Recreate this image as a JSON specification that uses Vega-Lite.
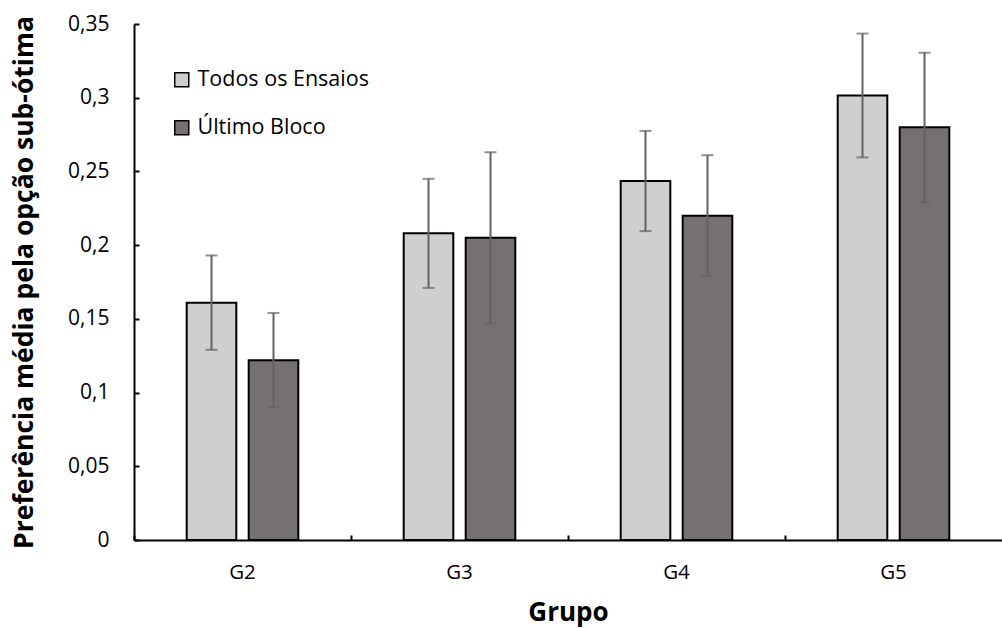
{
  "$schema": "https://vega.github.io/schema/vega-lite/v6.json",
  "width": 868,
  "height": 516,
  "autosize": {"type": "none"},
  "padding": {"left": 134, "top": 24, "right": 0, "bottom": 88},
  "background": "white",
  "data": {
    "values": [
      {"grupo": "G2", "serie": "Todos os Ensaios", "valor": 0.161, "lo": 0.129, "hi": 0.193},
      {"grupo": "G2", "serie": "Último Bloco", "valor": 0.122, "lo": 0.090, "hi": 0.154},
      {"grupo": "G3", "serie": "Todos os Ensaios", "valor": 0.208, "lo": 0.171, "hi": 0.245},
      {"grupo": "G3", "serie": "Último Bloco", "valor": 0.205, "lo": 0.147, "hi": 0.263},
      {"grupo": "G4", "serie": "Todos os Ensaios", "valor": 0.2435, "lo": 0.2095, "hi": 0.2775},
      {"grupo": "G4", "serie": "Último Bloco", "valor": 0.220, "lo": 0.179, "hi": 0.261},
      {"grupo": "G5", "serie": "Todos os Ensaios", "valor": 0.3015, "lo": 0.2595, "hi": 0.3435},
      {"grupo": "G5", "serie": "Último Bloco", "valor": 0.280, "lo": 0.229, "hi": 0.3305}
    ]
  },
  "encoding": {
    "x": {
      "field": "grupo",
      "type": "nominal",
      "sort": null,
      "scale": {"paddingInner": 0, "paddingOuter": 0},
      "axis": {
        "title": "Grupo",
        "labelAngle": 0,
        "labelFontSize": 20.5,
        "bandPosition": 0,
        "tickSize": -5,
        "labelPadding": 27,
        "titlePadding": 17,
        "titleFontSize": 26
      }
    },
    "xOffset": {
      "field": "serie",
      "type": "nominal",
      "sort": null,
      "scale": {"paddingInner": 0.2, "paddingOuter": 0.85}
    }
  },
  "layer": [
    {
      "mark": {"type": "bar", "stroke": "black", "strokeWidth": 2},
      "encoding": {
        "y": {
          "field": "valor",
          "type": "quantitative",
          "scale": {"domain": [0, 0.35], "nice": false},
          "axis": {
            "title": "Preferência média pela opção sub-ótima",
            "values": [0, 0.05, 0.1, 0.15, 0.2, 0.25, 0.3, 0.35],
            "labelExpr": "replace(format(datum.value, '~g'), '.', ',')",
            "labelFontSize": 21,
            "tickSize": -5,
            "labelPadding": 30,
            "titlePadding": 29,
            "titleFontSize": 26.5
          }
        },
        "color": {
          "field": "serie",
          "type": "nominal",
          "sort": null,
          "scale": {"domain": ["Todos os Ensaios", "Último Bloco"], "range": ["#D0CECE", "#767171"]},
          "legend": {
            "title": null,
            "orient": "none",
            "legendX": 37,
            "legendY": 45,
            "symbolType": "square",
            "symbolSize": 196,
            "symbolStrokeColor": "black",
            "symbolStrokeWidth": 1.5,
            "labelFontSize": 21.5,
            "labelLimit": 400,
            "labelOffset": 5,
            "rowPadding": 25
          }
        }
      }
    },
    {
      "mark": {"type": "rule", "color": "#636363", "strokeWidth": 2},
      "encoding": {
        "y": {"field": "lo", "type": "quantitative"},
        "y2": {"field": "hi"}
      }
    },
    {
      "mark": {"type": "tick", "color": "#636363", "thickness": 2, "size": 12},
      "encoding": {
        "y": {"field": "lo", "type": "quantitative"}
      }
    },
    {
      "mark": {"type": "tick", "color": "#636363", "thickness": 2, "size": 12},
      "encoding": {
        "y": {"field": "hi", "type": "quantitative"}
      }
    }
  ],
  "config": {
    "font": "Open Sans",
    "view": {"stroke": null},
    "axis": {
      "domainColor": "black",
      "domainWidth": 2,
      "tickColor": "black",
      "tickWidth": 2,
      "grid": false,
      "labelFont": "Open Sans",
      "labelColor": "black",
      "titleFont": "Open Sans",
      "titleFontWeight": "bold",
      "titleColor": "black"
    },
    "legend": {
      "labelFont": "Open Sans",
      "labelColor": "black"
    }
  }
}
